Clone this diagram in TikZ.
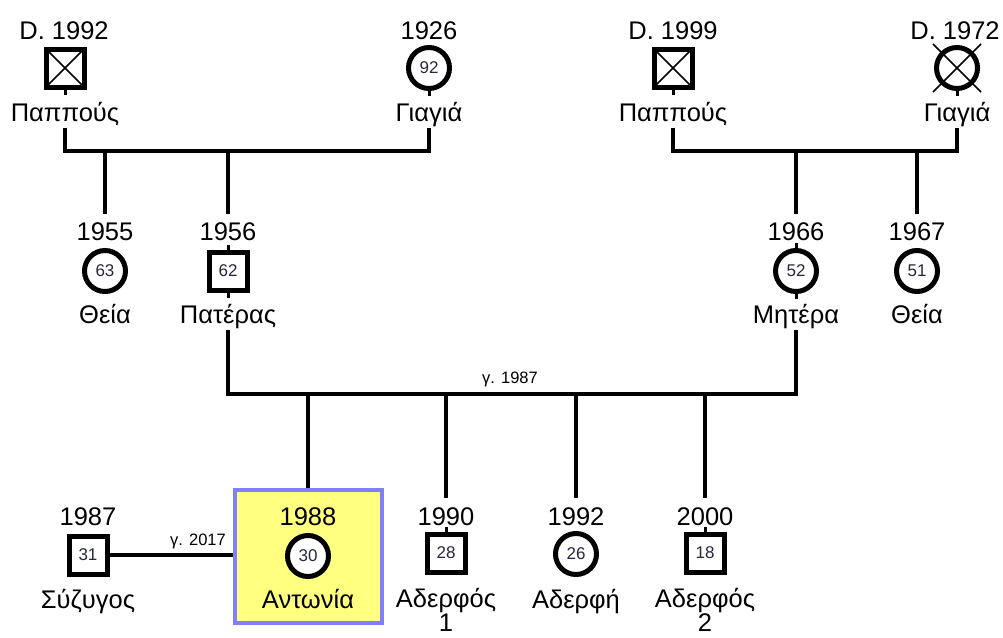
\documentclass[tikz,border=0pt]{standalone}
\usepackage{fontspec}
\setmainfont{Liberation Sans}
\definecolor{focusfill}{RGB}{255,255,128}
\definecolor{focusdraw}{RGB}{128,128,255}
\definecolor{agecol}{RGB}{40,40,60}
\begin{document}
\begin{tikzpicture}[x=1pt,y=-1pt,
  conn/.style={line width=3.5pt, line cap=rect},
  drop/.style={line width=3.5pt},
  stemline/.style={line width=3pt},
  male/.style={rectangle, draw, line width=5pt, fill=white, minimum size=38pt, inner sep=0pt,
    font=\fontsize{17}{17}\selectfont, text=agecol},
  female/.style={circle, draw, line width=5pt, fill=white, minimum size=41pt, inner sep=0pt,
    font=\fontsize{17}{17}\selectfont, text=agecol},
  dead/.style={path picture={\draw[line width=1.5pt] (path picture bounding box.north west) -- (path picture bounding box.south east)
      (path picture bounding box.north east) -- (path picture bounding box.south west);}},
  yr/.style={anchor=base, inner sep=0pt, outer sep=0pt, text height=27pt, font=\fontsize{25.5}{27}\selectfont},
  lab/.style={anchor=base, inner sep=0pt, outer sep=0pt, text depth=8pt, font=\fontsize{25.5}{27}\selectfont},
  lab2/.style={anchor=base, inner sep=0pt, outer sep=0pt, font=\fontsize{25.5}{21.5}\selectfont},
  mlab/.style={anchor=base, inner sep=0pt, font=\fontsize{16.5}{17}\selectfont},
  focusbox/.style={rectangle, draw=focusdraw, fill=focusfill, line width=4pt, minimum width=147pt, minimum height=133pt, inner sep=0pt}
]
\useasboundingbox (0,0) rectangle (1003,637);
\fill[white] (0,0) rectangle (1003,637);

% focus box
\node[focusbox] (antbox) at (308,556.5) {};

% ---------- generation 1 ----------
\node[yr] (p1y) at (64,39) {D. 1992};
\node[male,dead] (p1) at (65,68) {};
\node[lab] (p1l) at (65,121.5) {Παππούς};

\node[yr] (g1y) at (429,39) {1926};
\node[female] (g1) at (429,68) {92};
\node[lab] (g1l) at (429,121.5) {Γιαγιά};

\node[yr] (p2y) at (673,39) {D. 1999};
\node[male,dead] (p2) at (673,68) {};
\node[lab] (p2l) at (673,121.5) {Παππούς};

\node[yr] (g2y) at (955,39) {D. 1972};
\node[female] (g2) at (957,68) {};
\node[lab] (g2l) at (957,121.5) {Γιαγιά};
\draw[line width=1.5pt] ([shift={(-24,-24)}]g2.center) -- ([shift={(24,24)}]g2.center)
  ([shift={(24,-24)}]g2.center) -- ([shift={(-24,24)}]g2.center);

% ---------- generation 2 ----------
\node[yr] (a1y) at (105,240.5) {1955};
\node[female] (a1) at (105,271) {63};
\node[lab] (a1l) at (105,323.5) {Θεία};

\node[yr] (fay) at (228,240.5) {1956};
\node[male] (fa) at (228,271) {62};
\node[lab] (fal) at (228,323.5) {Πατέρας};

\node[yr] (moy) at (796,240.5) {1966};
\node[female] (mo) at (796,271) {52};
\node[lab] (mol) at (796,323.5) {Μητέρα};

\node[yr] (a2y) at (917,240.5) {1967};
\node[female] (a2) at (917,271) {51};
\node[lab] (a2l) at (917,323.5) {Θεία};

% ---------- generation 3 ----------
\node[yr] (spy) at (88,525) {1987};
\node[male] (sp) at (88,555) {31};
\node[lab] (spl) at (88,608) {Σύζυγος};

\node[yr] (any) at (308,525) {1988};
\node[female] (an) at (308,556) {30};
\node[lab] (anl) at (308,608) {Αντωνία};

\node[yr] (b1y) at (446,525) {1990};
\node[male] (b1) at (446,553) {28};
\node[lab2] (b1l) at (446,607) {\begin{tabular}[t]{@{}c@{}}Αδερφός\\1\end{tabular}};

\node[yr] (s1y) at (576,525) {1992};
\node[female] (s1) at (576,554) {26};
\node[lab] (s1l) at (576,608) {Αδερφή};

\node[yr] (b2y) at (705,525) {2000};
\node[male] (b2) at (705,553) {18};
\node[lab2] (b2l) at (705,607) {\begin{tabular}[t]{@{}c@{}}Αδερφός\\2\end{tabular}};

% ---------- stems ----------
\foreach \n in {p1,g1,p2,g2,fa,mo} \draw[stemline] (\n.south) -- ++(0,5);
\foreach \n in {fa,mo,b1,b2} \draw[stemline] (\n.north) -- ++(0,-5);

% ---------- connectors ----------
\coordinate (fam1) at (247,151);
\coordinate (fam2) at (815,151);
\coordinate (marr) at (512,394);

\draw[conn] (p1l.south) |- (fam1) -| (g1l.south);
\draw[drop] (a1y.north |- fam1) -- (a1y.north);
\draw[drop] (fay.north |- fam1) -- (fay.north);

\draw[conn] (p2l.south) |- (fam2) -| (g2l.south);
\draw[drop] (moy.north |- fam2) -- (moy.north);
\draw[drop] (a2y.north |- fam2) -- (a2y.north);

\draw[conn] (fal.south) |- (marr) -| (mol.south);
\node[mlab] (marrlab) at (510,383) {γ. 1987};
\draw[drop] (antbox.north |- marr) -- (antbox.north);
\draw[drop] (b1y.north |- marr) -- (b1y.north);
\draw[drop] (s1y.north |- marr) -- (s1y.north);
\draw[drop] (b2y.north |- marr) -- (b2y.north);

\draw[drop] (sp.east) -- (antbox.west |- sp.east);
\node[mlab] (splab) at (198,545) {γ. 2017};
\end{tikzpicture}
\end{document}
